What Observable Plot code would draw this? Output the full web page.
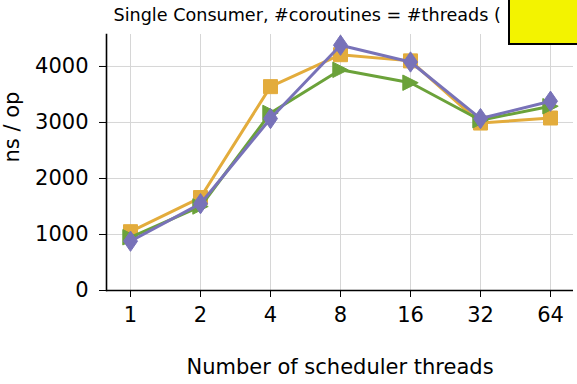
<!DOCTYPE html>
<html>
<head>
<meta charset="utf-8">
<script src="https://cdn.jsdelivr.net/npm/d3@7"></script>
<script src="https://cdn.jsdelivr.net/npm/@observablehq/plot@0.6"></script>
<style>
  html, body { margin: 0; padding: 0; background: #fff; }
  #wrap { position: relative; width: 577px; height: 384px; overflow: hidden; }
  #box { position: absolute; left: 508px; top: -2px; width: 75px; height: 43px;
         background: #f3f300; border: 2px solid #000; }
</style>
</head>
<body>
<div id="wrap"><div id="chart"></div><div id="box"></div></div>
<script>
const threads = ["1", "2", "4", "8", "16", "32", "64"];
const orangeNs = [1050, 1660, 3640, 4210, 4100, 2990, 3080];
const greenNs = [950, 1500, 3170, 3940, 3710, 3040, 3290];
const purpleNs = [880, 1550, 3070, 4380, 4080, 3070, 3380];
const yTicks = [0, 1000, 2000, 3000, 4000];
const titleText = "Single Consumer, #coroutines = #threads (";
const xLabel = "Number of scheduler threads";
const yLabel = "ns / op";

const series = [
  {name: "orange", values: orangeNs, color: "#e3ac3c", shape: "square"},
  {name: "green", values: greenNs, color: "#6ba23a", shape: "tri"},
  {name: "purple", values: purpleNs, color: "#7872b8", shape: "diamond"}
];

const symbols = {
  square: {draw(ctx, size) { const r = Math.sqrt(size / Math.PI); ctx.rect(-r, -r, 2 * r, 2 * r); }},
  diamond: {draw(ctx, size) { const r = Math.sqrt(size / Math.PI); const h = r * 1.45, w = r * 1.0;
    ctx.moveTo(0, -h); ctx.lineTo(w, 0); ctx.lineTo(0, h); ctx.lineTo(-w, 0); ctx.closePath(); }},
  tri: {draw(ctx, size) { const r = Math.sqrt(size / Math.PI) * 1.1;
    ctx.moveTo(r, 0); ctx.lineTo(-r, r); ctx.lineTo(-r, -r); ctx.closePath(); }}
};

const marks = [
  Plot.gridX(threads, {stroke: "#d6d6d6", strokeOpacity: 1, strokeWidth: 1}),
  Plot.gridY(yTicks, {stroke: "#d6d6d6", strokeOpacity: 1, strokeWidth: 1}),
  Plot.axisX({tickSize: 7, tickPadding: 10, fontSize: 21, label: null}),
  Plot.axisY({ticks: yTicks, tickSize: 7, tickPadding: 11, fontSize: 21, label: null, tickFormat: d => String(d)}),
  Plot.ruleY([0], {stroke: "#000", strokeWidth: 1.6}),
  Plot.frame({anchor: "left", stroke: "#000", strokeWidth: 1.6})
];

for (const s of series) {
  const data = threads.map((t, i) => ({t, v: s.values[i]}));
  marks.push(Plot.line(data, {x: "t", y: "v", stroke: s.color, strokeWidth: 3}));
  marks.push(Plot.dot(data, {x: "t", y: "v", fill: s.color, stroke: s.color, strokeWidth: 1,
    symbol: symbols[s.shape], r: 7}));
}

marks.push(Plot.text([titleText], {frameAnchor: "top-left", dx: 7, dy: -19, textAnchor: "start",
  lineAnchor: "middle", fontSize: 17.6, fill: "#000"}));
marks.push(Plot.text([xLabel], {frameAnchor: "bottom", dy: 77, lineAnchor: "middle", fontSize: 21, fill: "#000"}));
marks.push(Plot.text([yLabel], {frameAnchor: "left", dx: -94, rotate: -90, fontSize: 21, fill: "#000"}));

const chart = Plot.plot({
  width: 577,
  height: 384,
  marginLeft: 106,
  marginRight: 4,
  marginTop: 34,
  marginBottom: 94,
  style: {fontFamily: "DejaVu Sans", fontSize: "21px", color: "#000", background: "#fff", overflow: "visible"},
  x: {type: "point", domain: threads, padding: 0.3, label: null},
  y: {domain: [0, 4571], label: null},
  marks
});
document.getElementById("chart").appendChild(chart);
</script>
</body>
</html>
